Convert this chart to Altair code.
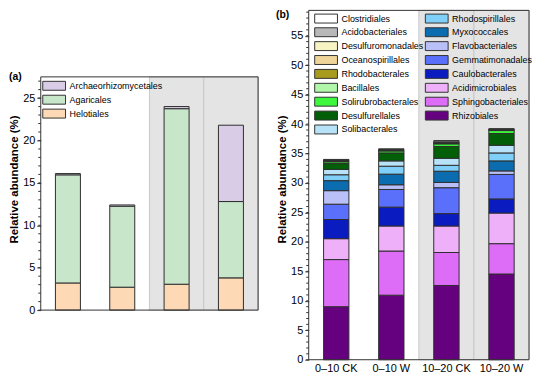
import altair as alt
import pandas as pd

groups = ["0–10 CK", "0–10 W", "10–20 CK", "10–20 W"]

# ---- panel (a): fungal orders, listed bottom -> top of the stack
a_orders = ["Helotiales", "Agaricales", "Archaeorhizomycetales"]
a_helotiales = [3.2, 2.7, 3.05, 3.8]
a_agaricales = [12.75, 9.55, 20.7, 9.0]
a_archaeorhizomycetales = [0.15, 0.15, 0.25, 9.0]
a_colors = ["#fdd9b5", "#c8e6c9", "#d9cce6"]

# ---- panel (b): bacterial orders, listed bottom -> top of the stack
b_orders = ["Rhizobiales", "Sphingobacteriales", "Acidimicrobiales", "Caulobacterales",
            "Gemmatimonadales", "Flavobacteriales", "Myxococcales", "Rhodospirillales",
            "Solibacterales", "Desulfurellales", "Solirubrobacterales", "Bacillales",
            "Rhodobacterales", "Oceanospirillales", "Desulfuromonadales",
            "Acidobacteriales", "Clostridiales"]
b_rhizobiales = [9.0, 10.95, 12.6, 14.55]
b_sphingobacteriales = [8.0, 7.5, 5.6, 5.15]
b_acidimicrobiales = [3.55, 4.25, 4.5, 5.2]
b_caulobacterales = [3.25, 3.2, 2.1, 2.4]
b_gemmatimonadales = [2.6, 3.0, 4.4, 4.15]
b_flavobacteriales = [2.3, 0.8, 0.9, 0.6]
b_myxococcales = [1.7, 1.8, 1.9, 1.7]
b_rhodospirillales = [1.0, 1.35, 1.0, 1.35]
b_solibacterales = [0.9, 0.9, 1.2, 1.3]
b_desulfurellales = [1.0, 1.35, 2.0, 2.0]
b_solirubrobacterales = [0.3, 0.35, 0.45, 0.5]
b_bacillales = [0.05, 0.05, 0.05, 0.05]
b_rhodobacterales = [0.05, 0.05, 0.1, 0.05]
b_oceanospirillales = [0.05, 0.05, 0.05, 0.05]
b_desulfuromonadales = [0.05, 0.05, 0.05, 0.05]
b_acidobacteriales = [0.1, 0.05, 0.1, 0.05]
b_clostridiales = [0.1, 0.1, 0.2, 0.05]
b_colors = ["#65007f", "#dd6cf6", "#efb0fa", "#0a1cbf", "#5a6ffa", "#b9bff7",
            "#0b6cb0", "#7fcff8", "#b8e2f8", "#035f07", "#3cf73c", "#b1f7a9",
            "#a89a1c", "#efd59a", "#f7f3c2", "#b8b8b8", "#ffffff"]

a_values = [a_helotiales, a_agaricales, a_archaeorhizomycetales]
b_values = [b_rhizobiales, b_sphingobacteriales, b_acidimicrobiales, b_caulobacterales,
            b_gemmatimonadales, b_flavobacteriales, b_myxococcales, b_rhodospirillales,
            b_solibacterales, b_desulfurellales, b_solirubrobacterales, b_bacillales,
            b_rhodobacterales, b_oceanospirillales, b_desulfuromonadales,
            b_acidobacteriales, b_clostridiales]

a_ticks = [0, 5, 10, 15, 20, 25]
b_ticks = [0, 5, 10, 15, 20, 25, 30, 35, 40, 45, 50, 55]
a_minor = list(range(0, 28))
b_minor = list(range(0, 60))
a_top = 27.5   # value at the top of panel (a)'s frame
b_top = 59.3   # value at the top of panel (b)'s frame


def long_df(orders, values):
    rows = []
    for i, (name, vals) in enumerate(zip(orders, values)):
        for g, v in zip(groups, vals):
            rows.append({"group": g, "taxon": name, "idx": i, "value": v})
    return pd.DataFrame(rows)


df_a = long_df(a_orders, a_values)
df_b = long_df(b_orders, b_values)

# legend order: top of the stack first (Vega fills legend columns top to bottom)
a_legend = a_orders[::-1]
a_legend_colors = a_colors[::-1]
b_legend = b_orders[::-1]
b_legend_colors = b_colors[::-1]

AX_FONT = "Liberation Sans"
LEG_FONT = "Liberation Sans"
RECT_PATH = "M-2.55,-1H2.55V1H-2.55Z"


def panel(df, legend_dom, legend_cols, ticks, minor, top_val, W, H, off, label, show_x,
          leg_x, leg_y, ncols, col_pad, lab_x, title_y):
    # off: empty space above the frame inside the plot area (for panel a)
    frame_h = H - off
    ymax = top_val * H / frame_h
    xscale = alt.Scale(domain=groups, paddingInner=0, paddingOuter=0)
    if show_x:
        xaxis = alt.Axis(title=None, labelAngle=0, ticks=False, domain=False,
                         labelFont=AX_FONT, labelFontSize=11, labelColor="#000",
                         labelPadding=3)
    else:
        xaxis = None
    yscale = alt.Scale(domain=[0, ymax], nice=False)
    yaxis = alt.Axis(values=ticks, title="Relative abundance (%)", domain=False,
                     tickSize=4, tickColor="#333", labelFont=AX_FONT, labelFontSize=11,
                     labelColor="#000", labelPadding=2, titleFont=AX_FONT,
                     titleFontSize=11.5, titleFontWeight="bold", titleColor="#000",
                     titlePadding=3, grid=False, titleY=title_y)

    bg = alt.Chart(pd.DataFrame({"group": groups[2:]})).mark_rect(
        fill="#e4e4e4", stroke="#c8c8c8", strokeWidth=1
    ).encode(x=alt.X("group:N", scale=xscale, axis=xaxis),
             y=alt.value(off), y2=alt.value(H))

    bars = alt.Chart(df).mark_bar(
        stroke="#2e2e2e", strokeWidth=1, width=alt.RelativeBandSize(0.46)
    ).encode(
        x=alt.X("group:N", scale=xscale, axis=xaxis),
        y=alt.Y("value:Q", stack="zero", scale=yscale, axis=yaxis),
        color=alt.Color("taxon:N",
                        scale=alt.Scale(domain=legend_dom, range=legend_cols),
                        legend=alt.Legend(title=None, orient="none", legendX=leg_x,
                                          legendY=leg_y, columns=ncols,
                                          symbolType=RECT_PATH, symbolSize=81,
                                          symbolStrokeColor="#333", symbolStrokeWidth=1,
                                          labelFont=LEG_FONT, labelFontSize=9,
                                          labelColor="#000", labelOffset=10.5,
                                          columnPadding=col_pad, rowPadding=0,
                                          padding=0, labelLimit=200)),
        order=alt.Order("idx:Q", sort="ascending"),
    )

    minor_t = alt.Chart(pd.DataFrame({"value": minor})).mark_rule(
        color="#333", strokeWidth=1
    ).encode(y=alt.Y("value:Q", scale=yscale, axis=yaxis),
             x=alt.value(-2.5), x2=alt.value(0))

    frame = alt.Chart(pd.DataFrame({"k": [0]})).mark_rect(
        fill="transparent", stroke="#333", strokeWidth=1
    ).encode(x=alt.value(0), x2=alt.value(W), y=alt.value(off), y2=alt.value(H))

    lab = alt.Chart(pd.DataFrame({"t": [label]})).mark_text(
        align="left", baseline="top", font=AX_FONT, fontSize=10.5, fontWeight="bold",
        color="#000"
    ).encode(text="t:N", x=alt.value(lab_x), y=alt.value(max(off - 5, 0)))

    return alt.layer(bg, bars, minor_t, frame, lab).properties(width=W, height=H)


pa = panel(df_a, a_legend, a_legend_colors, a_ticks, a_minor, a_top, 219, 302, 67,
           "(a)", False, 8.5, 71, 1, 0, -32, 170)
pb = panel(df_b, b_legend, b_legend_colors, b_ticks, b_minor, b_top, 222, 352, 0,
           "(b)", True, 12.5, 3, 2, -1.5, -33, 170)

chart = alt.hconcat(pa, pb, spacing=16).resolve_scale(
    color="independent", x="independent", y="independent"
).properties(padding=0).configure_view(stroke="transparent")

chart.save("out.html", embed_options={"renderer": "svg", "actions": False})
